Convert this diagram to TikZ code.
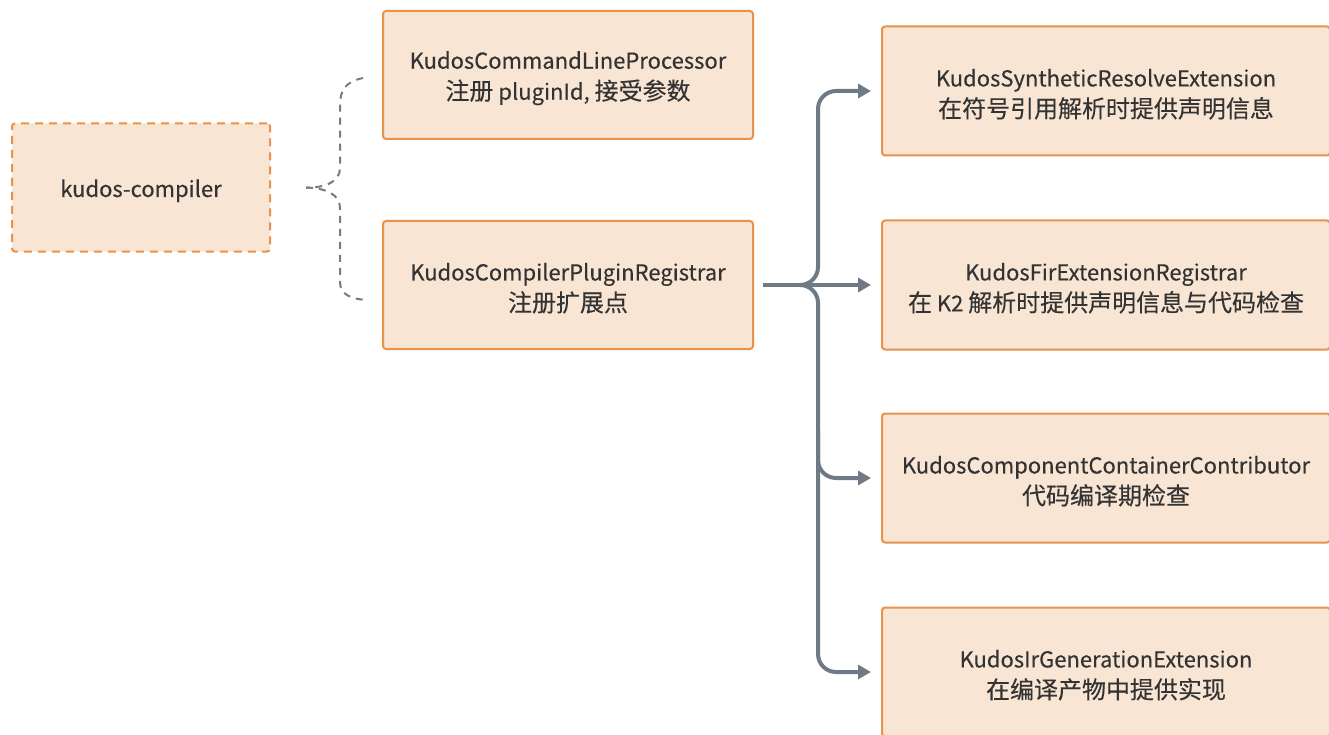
\documentclass[tikz,border=0pt]{standalone}
\usepackage{fontspec}
\setmainfont{Noto Sans CJK SC}[FakeBold=0.3]
\newfontfamily\zhf{Noto Sans CJK SC}[Scale=1.09,FakeBold=0.3]
\usetikzlibrary{arrows.meta,calc}
\definecolor{boxfill}{HTML}{F8E5D4}
\definecolor{boxline}{HTML}{E8924C}
\definecolor{txt}{HTML}{333333}
\definecolor{arrgray}{HTML}{6E7B87}
\definecolor{dashgray}{HTML}{7A7A7A}
\newcommand\topstrut{\rule{0pt}{24pt}}
\tikzset{
  box/.style={draw=boxline, fill=boxfill, line width=2pt, rounded corners=3pt,
    minimum width=370pt, minimum height=128pt, align=center, text=txt,
    font=\fontsize{22}{31}\selectfont, inner sep=0pt},
  rbox/.style={box, minimum width=448pt, minimum height=129pt},
  rootbox/.style={box, dash pattern=on 8pt off 6pt, minimum width=258pt, minimum height=128pt,
    execute at begin node={\rule{0pt}{24pt}}},
  arr/.style={draw=arrgray, line width=4pt, rounded corners=18pt,
    -{Triangle[length=13pt,width=14pt]}},
  bracel/.style={draw=dashgray, line width=2pt, dash pattern=on 7pt off 6pt},
}
\begin{document}
\begin{tikzpicture}[x=1pt,y=-1pt]
\useasboundingbox (0,0) rectangle (1329,735);
\node[rootbox] (root) at (141,187.5) {kudos-compiler};
\node[box] (clp) at (568,75) {\topstrut KudosCommandLineProcessor\\{\zhf 注册} pluginId, {\zhf 接受参数}};
\node[box] (reg) at (568,285) {\topstrut KudosCompilerPluginRegistrar\\{\zhf 注册扩展点}};
\node[rbox] (r1) at (1106,91) {\topstrut KudosSyntheticResolveExtension\\{\zhf 在符号引用解析时提供声明信息}};
\node[rbox] (r2) at (1106,285) {\topstrut KudosFirExtensionRegistrar\\{\zhf 在} K2 {\zhf 解析时提供声明信息与代码检查}};
\node[rbox] (r3) at (1106,478) {\topstrut KudosComponentContainerContributor\\{\zhf 代码编译期检查}};
\node[rbox] (r4) at (1106,672) {\topstrut KudosIrGenerationExtension\\{\zhf 在编译产物中提供实现}};
% brace
\coordinate (tip) at ($(root.east)+(35,0)$);
\coordinate (bt) at ($(clp.south west)+(-19,-62)$);
\coordinate (bb) at ($(reg.north west)+(-15,80)$);
\draw[bracel] (bt) .. controls (345,82) and (340,90) .. (340,106) -- (340,168)
  .. controls (340,182) and (325,188) .. (tip);
\draw[bracel] (tip) .. controls (325,188) and (340,194) .. (340,208) -- (340,282)
  .. controls (340,294) and (350,299) .. (bb);
% arrows
\coordinate (s) at ($(reg.east)+(9,0)$);
\coordinate (j) at ($(reg.east)+(47,0)$);
\draw[arr] (s) -- ($(r2.west)+(-10,0)$);
\draw[arr] (j) -| (818,150) |- ($(r1.west)+(-10,0)$);
\draw[arr] (j) -| (818,600) |- ($(r4.west)+(-10,0)$);
\draw[arr] (818,430) |- ($(r3.west)+(-10,0)$);
\end{tikzpicture}
\end{document}
